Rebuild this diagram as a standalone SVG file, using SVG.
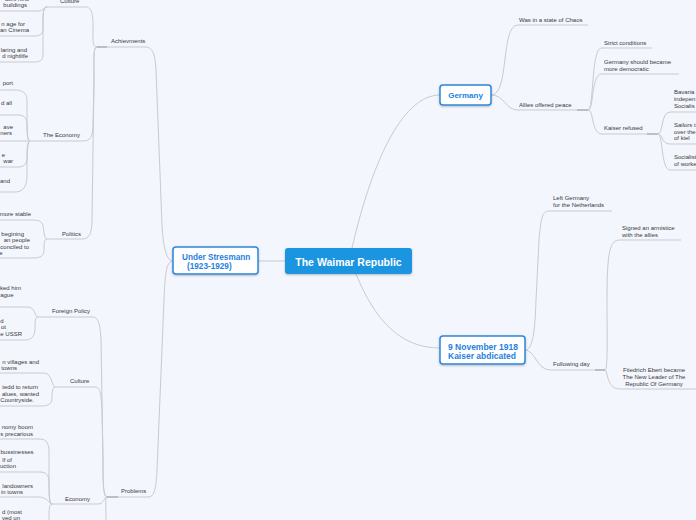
<svg xmlns="http://www.w3.org/2000/svg" width="696" height="520" viewBox="0 0 696 520">
<defs>
<style>
.c{fill:none;stroke:#cacad0;stroke-width:1}
.k{fill:none;stroke:#b4b4ba;stroke-width:1.6}
.t{font-family:"Liberation Sans",Arial,sans-serif;font-size:6px;fill:#3a3a40}
.e{text-anchor:end}
.bx{fill:#ffffff;stroke:#2d86dc;stroke-width:1.5}
.bt{font-family:"Liberation Sans",Arial,sans-serif;font-weight:bold;fill:#1f7fe0}
</style>
<filter id="sh" x="-10%" y="-20%" width="120%" height="150%">
<feDropShadow dx="0" dy="1" stdDeviation="0.8" flood-color="#000" flood-opacity="0.25"/>
</filter>
</defs>
<rect width="696" height="520" fill="#f3f6fd"/>
<g id="connectors">
<path class="c" d="M258,261 L285,261"/>
<path class="c" d="M352,248 C370,170 400,95 440,95"/>
<path class="c" d="M356,274 C375,320 400,348 440,348"/>
<path class="c" d="M491,95 C510,95 500,25 518,25 L588,25"/>
<path class="c" d="M491,95 C505,95 505,110 518,110 L588,110"/>
<path class="k" d="M577,110 L588,110"/>
<path class="c" d="M588,110 C594,110 591,50 601,48 L652,48"/>
<path class="c" d="M588,110 C594,110 591,76 601,74 L679,74"/>
<path class="c" d="M588,110 C594,110 591,132 601,134 L657,134"/>
<path class="k" d="M647,134 L658,134"/>
<path class="c" d="M658,134 C663,134 661,112 670,112 L696,112"/>
<path class="c" d="M658,134 C663,134 661,144 670,144 L696,144"/>
<path class="c" d="M658,134 C663,134 661,170 670,170 L696,170"/>
<path class="c" d="M525,350 C533,350 535,330 536,300 L539,240 C541,215 543,211 550,211 L612,211"/>
<path class="c" d="M525,350 C535,350 537,370 550,370 L605,370"/>
<path class="k" d="M595,370 L605,370"/>
<path class="c" d="M605,370 C608,370 607,340 607,300 C607,250 610,240 620,240 L681,240"/>
<path class="c" d="M605,370 C608,370 606,389 620,389 L696,389"/>
<path class="c" d="M173,261 C166,261 163,245 162,225 L156,70 C155,52 152,47 145,47 L97,47"/>
<path class="k" d="M97,47 L107,47"/>
<path class="c" d="M173,261 C166,261 165,275 164,300 L157,470 C156,490 154,497 148,497 L107,497"/>
<path class="k" d="M107,497 L118,497"/>
<path class="c" d="M97,47 C92,47 93,40 93,25 C93,10 90,7 85,7 L47,7"/>
<path class="c" d="M97,47 C93,47 94,60 94,80 L93,125 C93,137 90,141 83,141 L30,141"/>
<path class="c" d="M97,47 C93,47 94,60 94,80 L92,220 C92,234 89,239 82,239 L47,239"/>
<path class="c" d="M47,7 C43,7 44,11 38,11 L0,11"/>
<path class="c" d="M47,7 C43,7 43,15 43,20 L43,28 C43,34 40,36 35,36 L0,36"/>
<path class="c" d="M47,7 C43,7 43,15 43,25 L43,54 C43,60 40,62 35,62 L0,62"/>
<path class="c" d="M30,141 C27,141 27,130 27,120 L27,100 C27,93 22,90 15,90 L0,90"/>
<path class="c" d="M30,141 C27,141 27,130 27,125 C27,118 24,115 18,115 L0,115"/>
<path class="c" d="M30,141 L0,141"/>
<path class="c" d="M30,141 C27,141 27,150 27,157 C27,164 24,167 18,167 L0,167"/>
<path class="c" d="M30,141 C27,141 27,160 27,175 C27,188 22,192 15,192 L0,192"/>
<path class="c" d="M47,239 C44,239 44,230 43,226 C42,221 38,220 32,220 L0,220"/>
<path class="c" d="M47,239 C44,239 44,245 44,250 C44,256 40,258 34,258 L0,258"/>
<path class="c" d="M107,497 C103,497 103,480 103,460 L101,340 C100,322 98,317 92,317 L38,317"/>
<path class="c" d="M107,497 C103,497 103,480 103,460 L102,410 C101,392 100,387 95,387 L55,387"/>
<path class="c" d="M107,497 C104,497 104,504 98,504 L52,504"/>
<path class="c" d="M107,497 C105,497 106,505 106,520"/>
<path class="c" d="M38,317 C35,317 35,307 28,307 L0,307"/>
<path class="c" d="M38,317 C35,317 35,322 35,328 C35,336 32,340 25,340 L0,340"/>
<path class="c" d="M55,387 C52,387 52,373 44,373 L0,373"/>
<path class="c" d="M55,387 C52,387 52,395 52,398 C52,404 48,406 42,406 L0,406"/>
<path class="c" d="M52,504 C49,504 49,490 49,470 L49,452 C49,443 46,439 40,439 L0,439"/>
<path class="c" d="M52,504 C49,504 49,495 49,488 L49,482 C49,475 46,472 40,472 L0,472"/>
<path class="c" d="M52,504 C49,504 48,497 38,497 L0,497"/>
<path class="c" d="M52,504 C49,504 49,510 49,520"/>
</g>
<g id="root">
<rect x="285" y="248" width="127" height="26" rx="3" fill="#1b95e0" filter="url(#sh)"/>
<text x="348.5" y="265.5" text-anchor="middle" font-family="Liberation Sans,Arial,sans-serif" font-weight="bold" font-size="10.5" fill="#ffffff">The Waimar Republic</text>
</g>
<g id="stresmann">
<rect class="bx" x="173" y="247" width="85" height="27" rx="3" filter="url(#sh)"/>
<text class="bt" x="182" y="260" font-size="8.2">Under Stresmann</text>
<text class="bt" x="187" y="268.5" font-size="8.2">(1923-1929)</text>
</g>
<g id="germany">
<rect class="bx" x="440" y="85" width="51" height="20" rx="3" filter="url(#sh)"/>
<text class="bt" x="465.5" y="98" font-size="8" text-anchor="middle">Germany</text>
</g>
<g id="november">
<rect class="bx" x="440" y="336" width="85" height="28" rx="3" filter="url(#sh)"/>
<text class="bt" x="448" y="350" font-size="8.5">9 November 1918</text>
<text class="bt" x="448" y="359" font-size="8.5">Kaiser abdicated</text>
</g>
<g id="chaos"><text class="t" x="519" y="22">Was in a state of Chaos</text></g>
<g id="allies"><text class="t" x="519" y="107">Allies offered peace</text></g>
<g id="strict"><text class="t" x="604" y="45">Strict conditions</text></g>
<g id="democratic"><text class="t" x="604" y="64">Germany should became</text><text class="t" x="604" y="71">more democratic</text></g>
<g id="kaiser-refused"><text class="t" x="604" y="130">Kaiser refused</text></g>
<g id="bavaria"><text class="t" x="674" y="94">Bavaria</text><text class="t" x="674" y="101">indepen</text><text class="t" x="674" y="108">Socialis</text></g>
<g id="sailors"><text class="t" x="674" y="127">Sailors t</text><text class="t" x="674" y="133.5">over the</text><text class="t" x="674" y="140">of kiel</text></g>
<g id="socialists"><text class="t" x="674" y="159">Socialist</text><text class="t" x="674" y="165.5">of worke</text></g>
<g id="left-germany"><text class="t" x="553" y="200">Left Germany</text><text class="t" x="553" y="207">for the Netherlands</text></g>
<g id="following-day"><text class="t" x="553" y="366">Following day</text></g>
<g id="armistice"><text class="t" x="622" y="230">Signed an armistice</text><text class="t" x="622" y="236.5">with the allies</text></g>
<g id="ebert"><text class="t" x="654" y="372" text-anchor="middle">Ftiedrich Ebert became</text><text class="t" x="654" y="379" text-anchor="middle">The New Leader of The</text><text class="t" x="654" y="385.5" text-anchor="middle">Republic Of Germany</text></g>
<g id="achievments"><text class="t" x="111" y="43">Achievments</text></g>
<g id="problems"><text class="t" x="121" y="493">Problems</text></g>
<g id="culture-a"><text class="t" x="60" y="2.5">Culture</text></g>
<g id="economy-a"><text class="t" x="43" y="137">The Economy</text></g>
<g id="politics"><text class="t" x="62" y="236">Politics</text></g>
<g id="foreign-policy"><text class="t" x="52" y="313">Foreign Policy</text></g>
<g id="culture-p"><text class="t" x="70" y="383">Culture</text></g>
<g id="economy-p"><text class="t" x="65" y="501">Economy</text></g>
<g id="ca1"><text class="t e" x="29" y="1">ates new</text><text class="t e" x="27" y="7">buildings</text></g>
<g id="ca2"><text class="t e" x="25" y="26">n age for</text><text class="t e" x="29" y="32">an Cinema</text></g>
<g id="ca3"><text class="t e" x="27" y="52">laring and</text><text class="t e" x="28" y="58">d nightlife</text></g>
<g id="ea1"><text class="t e" x="13" y="85">port</text></g>
<g id="ea2"><text class="t e" x="12" y="105">d all</text></g>
<g id="ea3"><text class="t e" x="13" y="129">ave</text><text class="t e" x="12" y="135">ners</text></g>
<g id="ea4"><text class="t e" x="5" y="157">e</text><text class="t e" x="13" y="163">war</text></g>
<g id="ea5"><text class="t e" x="10" y="183">and</text></g>
<g id="pa1"><text class="t e" x="31" y="216">more stable</text></g>
<g id="pa2"><text class="t e" x="24" y="236">begining</text><text class="t e" x="30" y="242">an people</text><text class="t e" x="29" y="249">conciled to</text><text class="t e" x="2.5" y="255">e</text></g>
<g id="fp1"><text class="t e" x="21" y="290">ked him</text><text class="t e" x="13.5" y="297">ague</text></g>
<g id="fp2"><text class="t e" x="3.5" y="323">d</text><text class="t e" x="6" y="329">ot</text><text class="t e" x="22" y="336">e USSR</text></g>
<g id="cp1"><text class="t e" x="39" y="364">n villages and</text><text class="t e" x="17" y="370">towns</text></g>
<g id="cp2"><text class="t e" x="38" y="389">tedd to return</text><text class="t e" x="39" y="396">alues, wanted</text><text class="t e" x="34" y="402">Countryside.</text></g>
<g id="ep1"><text class="t e" x="33" y="429">nomy boom</text><text class="t e" x="33" y="436">s precarious</text></g>
<g id="ep2"><text class="t e" x="33.5" y="454">bussinesses</text><text class="t e" x="12" y="462">lf of</text><text class="t e" x="16" y="468">uction</text></g>
<g id="ep3"><text class="t e" x="33" y="488">landowners</text><text class="t e" x="23" y="494">in towns</text></g>
<g id="ep4"><text class="t e" x="22" y="514">d (most</text><text class="t e" x="20" y="520">ved un</text></g>
</svg>
